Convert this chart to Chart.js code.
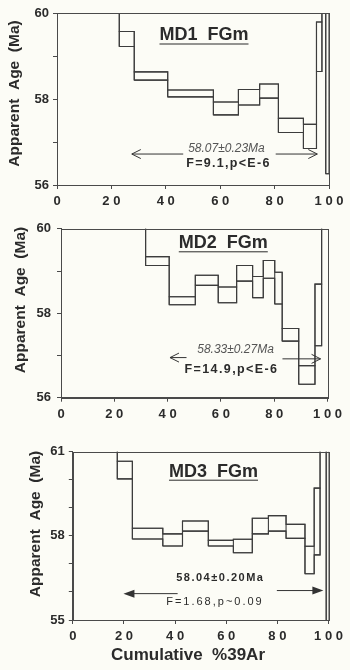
<!DOCTYPE html>
<html>
<head>
<meta charset="utf-8">
<script src="https://cdn.jsdelivr.net/npm/chart.js@4.4.1/dist/chart.umd.min.js"></script>
<style>
  html, body { margin: 0; padding: 0; background: #fcfcf6; }
  body { width: 350px; height: 670px; position: relative; overflow: hidden; }
  .panel { position: absolute; left: 0; width: 350px; }
  #p1 { top: 0; height: 215px; }
  #p2 { top: 215px; height: 220px; }
  #p3 { top: 435px; height: 235px; }
</style>
</head>
<body>
<div class="panel" id="p1"><canvas id="c1" width="350" height="215"></canvas></div>
<div class="panel" id="p2"><canvas id="c2" width="350" height="220"></canvas></div>
<div class="panel" id="p3"><canvas id="c3" width="350" height="235"></canvas></div>
<script>
/* step edges (cumulative %39Ar) and the upper / lower age of each step (Ma) */
const md1Edges = [0, 22.9, 28.4, 40.7, 57.5, 66.7, 74.5, 81.4, 90.6, 95.4, 97.4, 98.8, 100];
const md1Hi = [60.9, 59.57, 58.63, 58.21, 57.93, 58.22, 58.35, 57.55, 57.41, 59.79, 60.9, 60.9];
const md1Lo = [60.4, 59.22, 58.44, 58.05, 57.63, 57.86, 58.02, 57.22, 56.85, 58.64, 60.4, 56.26];

const md2Edges = [0, 31.75, 40.6, 50.4, 59.0, 65.9, 71.9, 75.9, 80.2, 83.0, 89.2, 95.3, 97.8, 100];
const md2Hi = [60.9, 59.34, 58.39, 58.90, 58.62, 59.13, 58.87, 59.25, 58.97, 57.64, 56.76, 58.69, 60.9];
const md2Lo = [60.4, 59.13, 58.20, 58.66, 58.25, 58.76, 58.37, 58.83, 58.22, 57.34, 56.32, 57.23, 60.4];

const md3Edges = [0, 17.4, 23.3, 35.2, 42.9, 53.0, 62.8, 70.2, 76.5, 83.4, 90.8, 94.4, 96.7, 99.1, 100];
const md3Hi = [62.0, 60.66, 58.27, 58.07, 58.53, 57.84, 57.88, 58.63, 58.72, 58.41, 57.63, 59.70, 62.0, 62.0];
const md3Lo = [61.5, 60.03, 57.89, 57.64, 58.17, 57.64, 57.40, 58.07, 58.17, 57.91, 56.65, 57.32, 61.5, 54.0];

const xTickLabels = ['0', '2 0', '4 0', '6 0', '8 0', '1 0 0'];
const md1YLabels = [56, 58, 60];
const md2YLabels = [56, 58, 60];
const md3YLabels = [55, 58, 61];

const FONT = '"Liberation Sans", Arial, Helvetica, sans-serif';
const INK = '#2b2b2b';

function stairs(edges, vals) {
  const pts = vals.map((v, i) => ({ x: edges[i], y: v }));
  pts.push({ x: edges[edges.length - 1], y: vals[vals.length - 1] });
  return pts;
}

// one outline per step, broken apart with null points
function boxes(edges, hi, lo) {
  const pts = [];
  hi.forEach((h, i) => {
    const x0 = edges[i], x1 = edges[i + 1];
    pts.push({ x: x0, y: lo[i] }, { x: x0, y: h }, { x: x1, y: h }, { x: x1, y: lo[i] }, { x: x0, y: lo[i] }, { x: x1, y: null });
  });
  return pts;
}

// text drawn one glyph at a time so letter spacing works everywhere
function spacedText(ctx, str, cx, cy, spacing) {
  const chars = [...str];
  const widths = chars.map(c => ctx.measureText(c).width);
  const total = widths.reduce((a, b) => a + b, 0) + spacing * (chars.length - 1);
  let x = cx - total / 2;
  ctx.textAlign = 'left';
  chars.forEach((c, i) => { ctx.fillText(c, x, cy); x += widths[i] + spacing; });
}

function arrow(ctx, x0, x1, y, filled) {
  // x1 is the tip
  const dir = Math.sign(x1 - x0);
  ctx.beginPath();
  ctx.moveTo(x0, y);
  ctx.lineTo(x1 - (filled ? dir * 6 : 0), y);
  ctx.stroke();
  ctx.beginPath();
  if (filled) {
    ctx.moveTo(x1, y);
    ctx.lineTo(x1 - dir * 11, y - 4);
    ctx.lineTo(x1 - dir * 11, y + 4);
    ctx.closePath();
    ctx.fill();
  } else {
    ctx.moveTo(x1 - dir * 9, y - 4.5);
    ctx.lineTo(x1, y);
    ctx.lineTo(x1 - dir * 9, y + 4.5);
    ctx.stroke();
  }
}

const plateauDecor = {
  id: 'plateau',
  afterDatasetsDraw(chart, args, o) {
    const { ctx, chartArea: a, scales: { x, y } } = chart;
    ctx.save();
    // frame
    ctx.strokeStyle = '#4a4a4a';
    ctx.lineWidth = 1;
    ctx.strokeRect(Math.round(a.left) + 0.5, Math.round(a.top) + 0.5, Math.round(a.right - a.left), Math.round(a.bottom - a.top));

    // sample title, underlined
    ctx.fillStyle = INK;
    ctx.font = 'bold 18px ' + FONT;
    ctx.textAlign = 'center';
    ctx.textBaseline = 'middle';
    ctx.fillText(o.title, o.titleX, o.titleY);
    const tw = ctx.measureText(o.title).width;
    ctx.strokeStyle = INK;
    ctx.lineWidth = 1;
    ctx.beginPath();
    ctx.moveTo(o.titleX - tw / 2, o.titleY + 8.5);
    ctx.lineTo(o.titleX + tw / 2, o.titleY + 8.5);
    ctx.stroke();

    // plateau arrows
    ctx.strokeStyle = '#333';
    ctx.fillStyle = '#333';
    ctx.lineWidth = 1;
    arrow(ctx, x.getPixelForValue(o.leftArrow[1]), x.getPixelForValue(o.leftArrow[0]), y.getPixelForValue(o.leftArrow[2]), o.filled);
    arrow(ctx, x.getPixelForValue(o.rightArrow[0]), x.getPixelForValue(o.rightArrow[1]), y.getPixelForValue(o.rightArrow[2]), o.filled);

    // plateau age and statistics
    o.notes.forEach(n => {
      ctx.fillStyle = n.color;
      ctx.font = n.font;
      ctx.textBaseline = 'middle';
      spacedText(ctx, n.text, x.getPixelForValue(n.x), y.getPixelForValue(n.y), n.spacing);
    });

    // axis titles
    ctx.fillStyle = INK;
    ctx.font = 'bold 15.5px ' + FONT;
    ctx.textAlign = 'center';
    ctx.textBaseline = 'middle';
    ctx.save();
    ctx.translate(o.yTitleX, o.yTitleY);
    ctx.rotate(-Math.PI / 2);
    ctx.fillText('Apparent  Age  (Ma)', 0, 0);
    ctx.restore();
    if (o.xTitle) {
      ctx.font = 'bold 17px ' + FONT;
      ctx.fillText(o.xTitle, o.xTitleX, o.xTitleY);
    }
    ctx.restore();
  }
};

function makeChart(id, edges, hi, lo, yMin, yMax, yLabels, box, deco) {
  const line = { showLine: true, borderColor: '#3c3c3c', borderWidth: 1.1, pointRadius: 0, pointHoverRadius: 0, fill: false, spanGaps: false };
  return new Chart(document.getElementById(id), {
    type: 'scatter',
    data: {
      datasets: [
        { ...line, stepped: true, data: stairs(edges, hi) },
        { ...line, stepped: true, data: stairs(edges, lo) },
        { ...line, data: boxes(edges, hi, lo) }
      ]
    },
    options: {
      responsive: false,
      animation: false,
      events: [],
      layout: { padding: { top: box.top, right: box.right, left: 0, bottom: 0 } },
      plugins: { legend: { display: false }, tooltip: { enabled: false }, plateau: deco },
      scales: {
        x: {
          type: 'linear', min: 0, max: 100,
          afterFit: s => { s.height = box.xh; },
          afterBuildTicks: s => { s.ticks = [0, 20, 40, 60, 80, 100].map(v => ({ value: v })); },
          ticks: {
            callback: (v, i) => xTickLabels[i],
            font: { family: FONT, size: 13, weight: 'bold' }, color: INK, padding: 5, maxRotation: 0
          },
          grid: { drawOnChartArea: false, tickLength: 4, color: '#4a4a4a' },
          border: { color: '#4a4a4a' }
        },
        y: {
          min: yMin, max: yMax,
          afterFit: s => { s.width = box.left; },
          afterBuildTicks: s => {
            const t = [];
            for (let v = yMin; v <= yMax; v++) t.push({ value: v });
            s.ticks = t;
          },
          ticks: {
            callback: v => yLabels.includes(v) ? String(v) : '',
            font: { family: FONT, size: 13, weight: 'bold' }, color: INK, padding: box.ypad
          },
          grid: { drawOnChartArea: false, tickLength: 4, color: '#4a4a4a' },
          border: { color: '#4a4a4a' }
        }
      }
    },
    plugins: [plateauDecor]
  });
}

makeChart('c1', md1Edges, md1Hi, md1Lo, 56, 60, md1YLabels,
  { top: 13, right: 21, left: 57, xh: 30, ypad: 4 },
  {
    title: 'MD1  FGm', titleX: 204, titleY: 35.5,
    yTitleX: 15, yTitleY: 93.5,
    leftArrow: [27.5, 46.4, 56.72], rightArrow: [80.4, 95.7, 56.72], filled: false,
    notes: [
      { text: '58.07\u00b10.23Ma', x: 62.3, y: 56.84, font: 'italic 12px ' + FONT, color: '#555', spacing: 0 },
      { text: 'F=9.1,p<E-6', x: 62.8, y: 56.50, font: 'bold 12.5px ' + FONT, color: INK, spacing: 1.3 }
    ]
  });

makeChart('c2', md2Edges, md2Hi, md2Lo, 56, 60, md2YLabels,
  { top: 11, right: 22.5, left: 61, xh: 37.3, ypad: 6 },
  {
    title: 'MD2  FGm', titleX: 223.3, titleY: 28.3,
    yTitleX: 20.7, yTitleY: 85,
    leftArrow: [40.9, 47.1, 56.95], rightArrow: [83.1, 97.4, 56.92], filled: false,
    notes: [
      { text: '58.33\u00b10.27Ma', x: 65.5, y: 57.13, font: 'italic 12px ' + FONT, color: '#555', spacing: 0 },
      { text: 'F=14.9,p<E-6', x: 63.7, y: 56.67, font: 'bold 12.5px ' + FONT, color: INK, spacing: 1.4 }
    ]
  });

makeChart('c3', md3Edges, md3Hi, md3Lo, 55, 61, md3YLabels,
  { top: 16.7, right: 21.5, left: 72.8, xh: 50, ypad: 4 },
  {
    title: 'MD3  FGm', titleX: 213.5, titleY: 36.7,
    yTitleX: 35.5, yTitleY: 89,
    leftArrow: [19.8, 41.0, 55.94], rightArrow: [79.8, 98.0, 56.05], filled: true,
    notes: [
      { text: '58.04\u00b10.20Ma', x: 57.4, y: 56.49, font: 'bold 11px ' + FONT, color: INK, spacing: 1.5 },
      { text: 'F=1.68,p~0.09', x: 55.2, y: 55.65, font: '11px ' + FONT, color: INK, spacing: 2 }
    ],
    xTitle: 'Cumulative  %39Ar', xTitleX: 188, xTitleY: 220
  });
</script>
</body>
</html>
